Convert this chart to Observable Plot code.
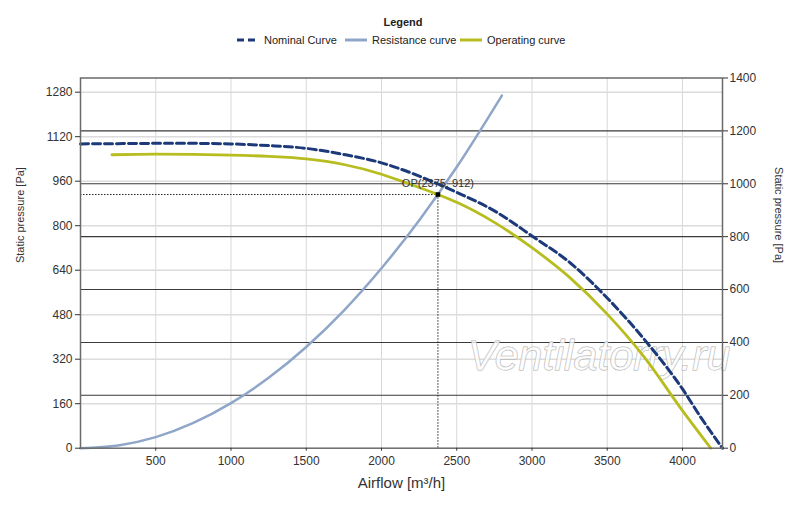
<!DOCTYPE html>
<html>
<head>
<meta charset="utf-8">
<script src="https://cdn.jsdelivr.net/npm/d3@7"></script>
<script src="https://cdn.jsdelivr.net/npm/@observablehq/plot@0.6"></script>
<style>
  body { margin: 0; background: white; font-family: "Liberation Sans", Arial, sans-serif; }
  #legend { height: 50px; position: relative; width: 800px; color: #222; }
  #legend .title { position: absolute; top: 16px; left: 0; width: 806px; text-align: center; font-weight: bold; font-size: 11px; }
  #legend .item { position: absolute; top: 34px; font-size: 11px; display: flex; align-items: center; white-space: nowrap; }
  #legend svg { margin-right: 5px; }
</style>
</head>
<body>
<div id="legend">
  <div class="title">Legend</div>
</div>
<div id="chart"></div>
<script>
// ---- data ----
const seriesNames = ["Nominal Curve", "Resistance curve", "Operating curve"];
const seriesColors = ["#1c3a7a", "#8fa6c8", "#b7bd1f"];

const nominalFlow = [0, 250, 500, 750, 1000, 1250, 1500, 1750, 2000, 2130, 2375, 2500, 2770, 3000, 3257, 3500, 3745, 4000, 4122, 4266];
const nominalPressure = [1094, 1095, 1096, 1096, 1094, 1088, 1078, 1056, 1026, 1003, 950, 920, 847, 763, 665, 540, 392, 213, 111, 0];

const resistanceFlow = [0, 250, 500, 750, 1000, 1250, 1500, 1750, 2000, 2250, 2500, 2800];
const resistancePressure = [0, 10, 40, 91, 162, 253, 364, 495, 647, 819, 1011, 1268];

const operatingFlow = [209, 500, 1000, 1250, 1500, 1750, 2000, 2160, 2375, 2500, 2750, 3000, 3250, 3500, 3750, 4000, 4188];
const operatingPressure = [1055, 1057, 1054, 1049, 1040, 1020, 985, 955, 912, 884, 812, 721, 614, 482, 325, 135, 0];

const opFlow = 2375;
const opPressure = 912;
const opLabel = "OP(2375, 912)";

const xTicks = [500, 1000, 1500, 2000, 2500, 3000, 3500, 4000];
const leftTicks = [0, 160, 320, 480, 640, 800, 960, 1120, 1280];
const rightTicks = [0, 200, 400, 600, 800, 1000, 1200, 1400];
const xMax = 4266;
const leftMax = 1331;
const rightMax = 1400;
const watermark = "Ventilatorry.ru";

// ---- legend ----
const legend = document.getElementById("legend");
const legendX = [237, 345, 460];
seriesNames.forEach((name, i) => {
  const d = document.createElement("div");
  d.className = "item";
  d.style.left = legendX[i] + "px";
  const dash = i === 0 ? 'stroke-dasharray="7,4"' : "";
  d.innerHTML = `<svg width="22" height="6"><line x1="0" y1="3" x2="22" y2="3" stroke="${seriesColors[i]}" stroke-width="3" ${dash}/></svg><span>${name}</span>`;
  legend.appendChild(d);
});

// ---- chart ----
const toRows = (xs, ys) => xs.map((x, i) => ({x, y: ys[i]}));
const nominal = toRows(nominalFlow, nominalPressure);
const resistance = toRows(resistanceFlow, resistancePressure);
const operating = toRows(operatingFlow, operatingPressure);
const ratio = leftMax / rightMax;
const plain = d => String(Math.round(d));

const chart = Plot.plot({
  width: 800,
  height: 457,
  marginLeft: 80,
  marginRight: 78,
  marginTop: 27.5,
  marginBottom: 59.3,
  style: {fontFamily: "Liberation Sans, Arial, sans-serif", fontSize: "12px", color: "#333", background: "white"},
  x: {domain: [0, xMax]},
  y: {domain: [0, leftMax]},
  marks: [
    Plot.gridX(xTicks, {stroke: "#d8d8d8", strokeOpacity: 1, strokeWidth: 1}),
    Plot.gridY(leftTicks.slice(1), {stroke: "#dcdcdc", strokeOpacity: 1, strokeWidth: 1.5}),
    Plot.ruleY(rightTicks.slice(1, -1).map(v => v * ratio), {stroke: "#3a3a3a", strokeWidth: 1.1}),
    Plot.text([watermark], {frameAnchor: "bottom-right", dx: 8, dy: -78, fontSize: 43, fontStyle: "italic", fill: "white", fillOpacity: 0.75, stroke: "#b0b0b0", strokeWidth: 1, textAnchor: "end", lineAnchor: "bottom"}),
    Plot.ruleY([opPressure], {x1: 0, x2: opFlow, stroke: "#222", strokeDasharray: "1.5,1.5", strokeWidth: 1}),
    Plot.ruleX([opFlow], {y1: 0, y2: opPressure, stroke: "#222", strokeDasharray: "1.5,1.5", strokeWidth: 1}),
    Plot.line(resistance, {x: "x", y: "y", stroke: seriesColors[1], strokeWidth: 2.5, curve: "monotone-x"}),
    Plot.line(operating, {x: "x", y: "y", stroke: seriesColors[2], strokeWidth: 2.8, curve: "monotone-x"}),
    Plot.line(nominal, {x: "x", y: "y", stroke: seriesColors[0], strokeWidth: 3, strokeDasharray: "8,4", curve: "monotone-x"}),
    Plot.dot([{x: opFlow, y: opPressure}], {x: "x", y: "y", symbol: "square", r: 2.6, fill: "black"}),
    Plot.text([{x: opFlow, y: opPressure}], {x: "x", y: "y", text: () => opLabel, dy: -11, fontSize: 11, fill: "#333"}),
    Plot.frame({stroke: "#6a6a6a", strokeWidth: 1.5}),
    Plot.axisX(xTicks, {anchor: "bottom", tickSize: 3, tickPadding: 5, fontSize: 12, label: null, tickFormat: plain}),
    Plot.axisY(leftTicks, {anchor: "left", tickSize: 5, tickPadding: 3, fontSize: 12, label: null, tickFormat: plain}),
    Plot.axisY(rightTicks.map(v => v * ratio), {anchor: "right", tickSize: 5, tickPadding: 2, fontSize: 12, label: null, tickFormat: d => plain(d / ratio)}),
    Plot.text(["Static pressure [Pa]"], {frameAnchor: "left", dx: -60, rotate: -90, fontSize: 11, fill: "#333"}),
    Plot.text(["Static pressure [Pa]"], {frameAnchor: "right", dx: 56, rotate: 90, fontSize: 11, fill: "#333"}),
    Plot.text(["Airflow [m³/h]"], {frameAnchor: "bottom", dy: 40, fontSize: 15, fill: "#333"})
  ]
});
document.getElementById("chart").appendChild(chart);
</script>
</body>
</html>
